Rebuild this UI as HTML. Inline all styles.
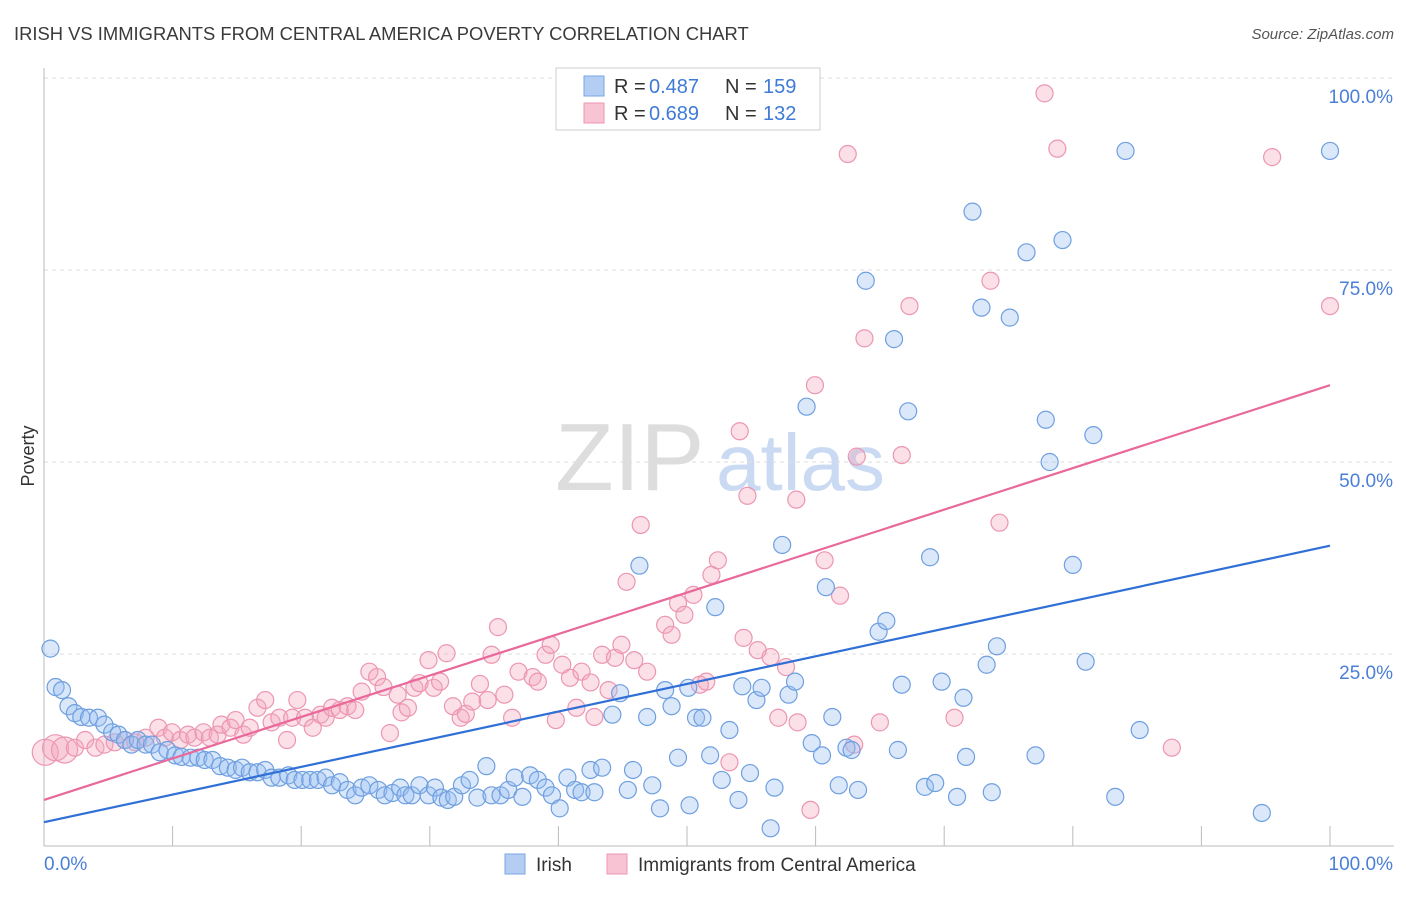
<!DOCTYPE html>
<html><head><meta charset="utf-8"><style>
body{margin:0;background:#fff;font-family:"Liberation Sans",sans-serif;}
svg text{font-family:"Liberation Sans",sans-serif;}
</style></head><body>
<svg id="chart" width="1406" height="892">
<text x="14" y="40" font-size="18.4" fill="#3a3a3a">IRISH VS IMMIGRANTS FROM CENTRAL AMERICA POVERTY CORRELATION CHART</text>
<text x="1394" y="39" font-size="15" fill="#555" font-style="italic" text-anchor="end">Source: ZipAtlas.com</text>
<text x="34" y="456" font-size="18" fill="#333" text-anchor="middle" transform="rotate(-90 34 456)">Poverty</text>
<g><text x="555" y="490" font-size="96" fill="#ddd" font-family="Liberation Serif">ZIP</text><text x="716" y="490" font-size="80" fill="#c9daf2">atlas</text></g>
<g id="grid"></g><g id="marks"></g><g id="lines"></g>
<g>
<rect x="556" y="68" width="264" height="62" fill="#fff" stroke="#ccc"/>
<rect x="584" y="76" width="20" height="20" fill="#b3cdf3" stroke="#7aa6e3"/>
<rect x="584" y="103" width="20" height="20" fill="#f8c4d4" stroke="#ec96b2"/>
<text y="93" font-size="20" fill="#333"><tspan x="614">R =</tspan><tspan x="649" fill="#3f7bd6">0.487</tspan><tspan x="725">N =</tspan><tspan x="763" fill="#3f7bd6">159</tspan></text>
<text y="120" font-size="20" fill="#333"><tspan x="614">R =</tspan><tspan x="649" fill="#3f7bd6">0.689</tspan><tspan x="725">N =</tspan><tspan x="763" fill="#3f7bd6">132</tspan></text>
</g>
<g>
<rect x="505" y="854" width="20" height="20" fill="#b3cdf3" stroke="#7aa6e3"/>
<text x="536" y="871" font-size="19" fill="#333">Irish</text>
<rect x="607" y="854" width="20" height="20" fill="#f8c4d4" stroke="#ec96b2"/>
<text x="638" y="871" font-size="19" fill="#333">Immigrants from Central America</text>
</g>
</svg>
<script>
const yTicks=[25,50,75,100];
const yTickLabels=["25.0%","50.0%","75.0%","100.0%"];
const xTicks=[0,10,20,30,40,50,60,70,80,90,100];
const irishX=[0.5,0.9,1.4,1.9,2.4,2.9,3.5,4.2,4.7,5.3,5.8,6.3,6.8,7.3,7.9,8.4,9.0,9.6,10.2,10.7,11.4,12.0,12.5,13.1,13.7,14.3,14.9,15.4,16.0,16.6,17.2,17.7,18.3,19.0,19.5,20.1,20.7,21.3,21.9,22.4,23.0,23.6,24.2,24.7,25.3,26.0,26.5,27.1,27.7,28.1,28.6,29.2,29.9,30.4,30.9,31.4,31.9,32.5,33.1,33.7,34.4,34.8,35.5,36.1,36.6,37.2,37.8,38.4,39.0,39.5,40.1,40.7,41.3,41.8,42.5,42.8,43.4,44.2,44.8,45.4,45.8,46.3,46.9,47.3,47.9,48.3,48.8,49.3,50.1,50.2,50.7,51.2,51.8,52.2,52.7,53.3,54.0,54.3,54.9,55.4,55.8,56.5,56.8,57.4,57.9,58.4,59.3,59.7,60.5,60.8,61.3,61.8,62.4,62.8,63.3,63.9,64.9,65.5,66.1,66.4,66.7,67.2,68.5,68.9,69.3,69.8,71.0,71.5,71.7,72.2,72.9,73.3,73.7,74.1,75.1,76.4,77.1,77.9,78.2,79.2,80.0,81.0,81.6,83.3,84.1,85.2,94.7,100];
const irishY=[25.7,20.7,20.3,18.2,17.3,16.8,16.7,16.7,15.8,14.8,14.5,13.8,13.2,13.8,13.2,13.2,12.2,12.5,11.8,11.6,11.5,11.5,11.2,11.2,10.4,10.2,9.9,10.2,9.6,9.6,9.9,8.9,8.9,9.2,8.6,8.6,8.6,8.6,8.9,7.9,8.3,7.3,6.6,7.6,7.9,7.3,6.6,6.9,7.6,6.6,6.6,7.9,6.6,7.6,6.3,6.0,6.4,7.9,8.6,6.3,10.4,6.6,6.6,7.3,8.9,6.4,9.2,8.6,7.6,6.6,4.9,8.9,7.3,7.0,9.9,7.0,10.2,17.1,19.9,7.3,9.9,36.5,16.8,7.9,4.9,20.3,18.2,11.5,20.6,5.3,16.7,16.7,11.8,31.1,8.6,15.1,6.0,20.8,9.5,19.0,20.6,2.3,7.6,39.2,19.7,21.4,57.2,13.4,11.8,33.7,16.8,7.9,12.8,12.5,7.3,73.6,27.9,29.3,66.0,12.5,21.0,56.6,7.7,37.6,8.2,21.4,6.4,19.3,11.6,82.6,70.1,23.6,7.0,26.0,68.8,77.3,11.8,55.5,50.0,78.9,36.6,24.0,53.5,6.4,90.5,15.1,4.3,90.5];
const caX=[0.1,0.9,1.6,2.4,3.2,4.0,4.7,5.5,6.3,7.1,7.9,8.9,9.4,9.95,10.6,11.2,11.7,12.4,12.9,13.5,13.8,14.5,14.9,15.5,16.0,16.6,17.2,17.7,18.3,18.9,19.3,19.7,20.3,20.9,21.5,21.9,22.4,23.0,23.6,24.2,24.7,25.3,25.9,26.4,26.9,27.5,27.8,28.3,28.8,29.2,29.9,30.3,30.8,31.3,31.8,32.4,32.8,33.3,33.9,34.5,34.8,35.3,35.8,36.4,36.9,38.0,38.4,39.0,39.4,39.8,40.3,40.9,41.4,41.8,42.5,42.8,43.4,43.9,44.4,44.9,45.3,45.9,46.4,46.9,48.3,48.8,49.3,49.8,50.5,51.0,51.5,51.9,52.4,53.3,54.1,54.4,54.7,55.5,56.5,57.1,57.7,58.5,58.6,59.6,59.95,60.7,61.9,62.5,63.0,63.2,63.8,65.0,66.7,67.3,70.8,73.6,74.3,77.8,78.8,87.7,95.5,100];
const caY=[12.2,12.8,12.5,12.8,13.8,12.8,13.2,13.5,13.8,13.5,14.1,15.4,14.1,14.8,13.8,14.5,14.1,14.8,14.1,14.5,15.8,15.4,16.4,14.5,15.4,18.0,19.0,16.1,16.7,13.8,16.7,19.0,16.7,15.4,17.1,16.7,18.0,17.7,18.2,17.7,20.1,22.7,22.0,20.7,14.7,19.7,17.4,18.0,20.6,21.2,24.2,20.6,21.4,25.1,18.2,16.7,17.2,18.8,21.1,19.0,24.9,28.5,19.7,16.7,22.7,22.0,21.4,24.9,26.2,16.4,23.6,21.9,18.0,22.7,21.3,16.8,24.9,20.3,24.5,26.2,34.4,24.2,41.8,22.7,28.8,27.5,31.6,30.1,32.7,21.0,21.4,35.3,37.2,10.9,54.0,27.1,45.6,25.5,24.6,16.7,23.3,45.1,16.1,4.7,60.0,37.2,32.6,90.1,13.2,50.7,66.1,16.1,50.9,70.3,16.7,73.6,42.1,98.0,90.8,12.8,89.7,70.3];
const irishTrend=[3.1,39.1];
const caTrend=[6.0,60.0];
const NS="http://www.w3.org/2000/svg";
const X0=44,X1=1330,Y0=846,Y100=78;
const sx=v=>X0+(X1-X0)*v/100, sy=v=>Y0-(Y0-Y100)*v/100;
function mk(t,a,p){const e=document.createElementNS(NS,t);for(const k in a)e.setAttribute(k,a[k]);p.appendChild(e);return e;}
const grid=document.getElementById('grid'),marks=document.getElementById('marks'),lines=document.getElementById('lines');
yTicks.forEach((v,i)=>{
 const l=mk('line',{x1:X0,x2:1394,y1:sy(v),y2:sy(v),stroke:'#ddd','stroke-dasharray':'4 4'},grid);
 
 
 const t=mk('text',{x:1393,y:sy(v)+25,'font-size':19,fill:'#4a7fd6','text-anchor':'end'},grid);t.textContent=yTickLabels[i];
 
 
});
const ax=mk('line',{x1:X0,x2:X0,y1:68,y2:Y0,stroke:'#bbb'},grid);


const bx=mk('line',{x1:X0,x2:1394,y1:Y0,y2:Y0,stroke:'#bbb'},grid);


xTicks.forEach(v=>{const t=mk('line',{x1:sx(v),x2:sx(v),y1:826,y2:Y0,stroke:'#bbb'},grid);
 
 });
const xl0=mk('text',{x:44,y:870,'font-size':19,fill:'#4a7fd6'},grid);xl0.textContent='0.0%';


const xl1=mk('text',{x:1393,y:870,'font-size':19,fill:'#4a7fd6','text-anchor':'end'},grid);xl1.textContent='100.0%';


caX.forEach((v,i)=>{const c=mk('circle',{cx:sx(v),cy:sy(caY[i]),r:i<3?13:8.5,fill:'rgba(243,165,190,0.35)',stroke:'#ec96b2','stroke-width':1.2},marks);
 
 });
irishX.forEach((v,i)=>{const c=mk('circle',{cx:sx(v),cy:sy(irishY[i]),r:8.5,fill:'rgba(150,188,240,0.35)',stroke:'#6f9fe0','stroke-width':1.2},marks);
 
 });
const l1=mk('line',{x1:sx(0),x2:sx(100),y1:sy(irishTrend[0]),y2:sy(irishTrend[1]),stroke:'#2f6fd6','stroke-width':2.2},lines);


const l2=mk('line',{x1:sx(0),x2:sx(100),y1:sy(caTrend[0]),y2:sy(caTrend[1]),stroke:'#e8699a','stroke-width':2.2},lines);


</script>
</body></html>
